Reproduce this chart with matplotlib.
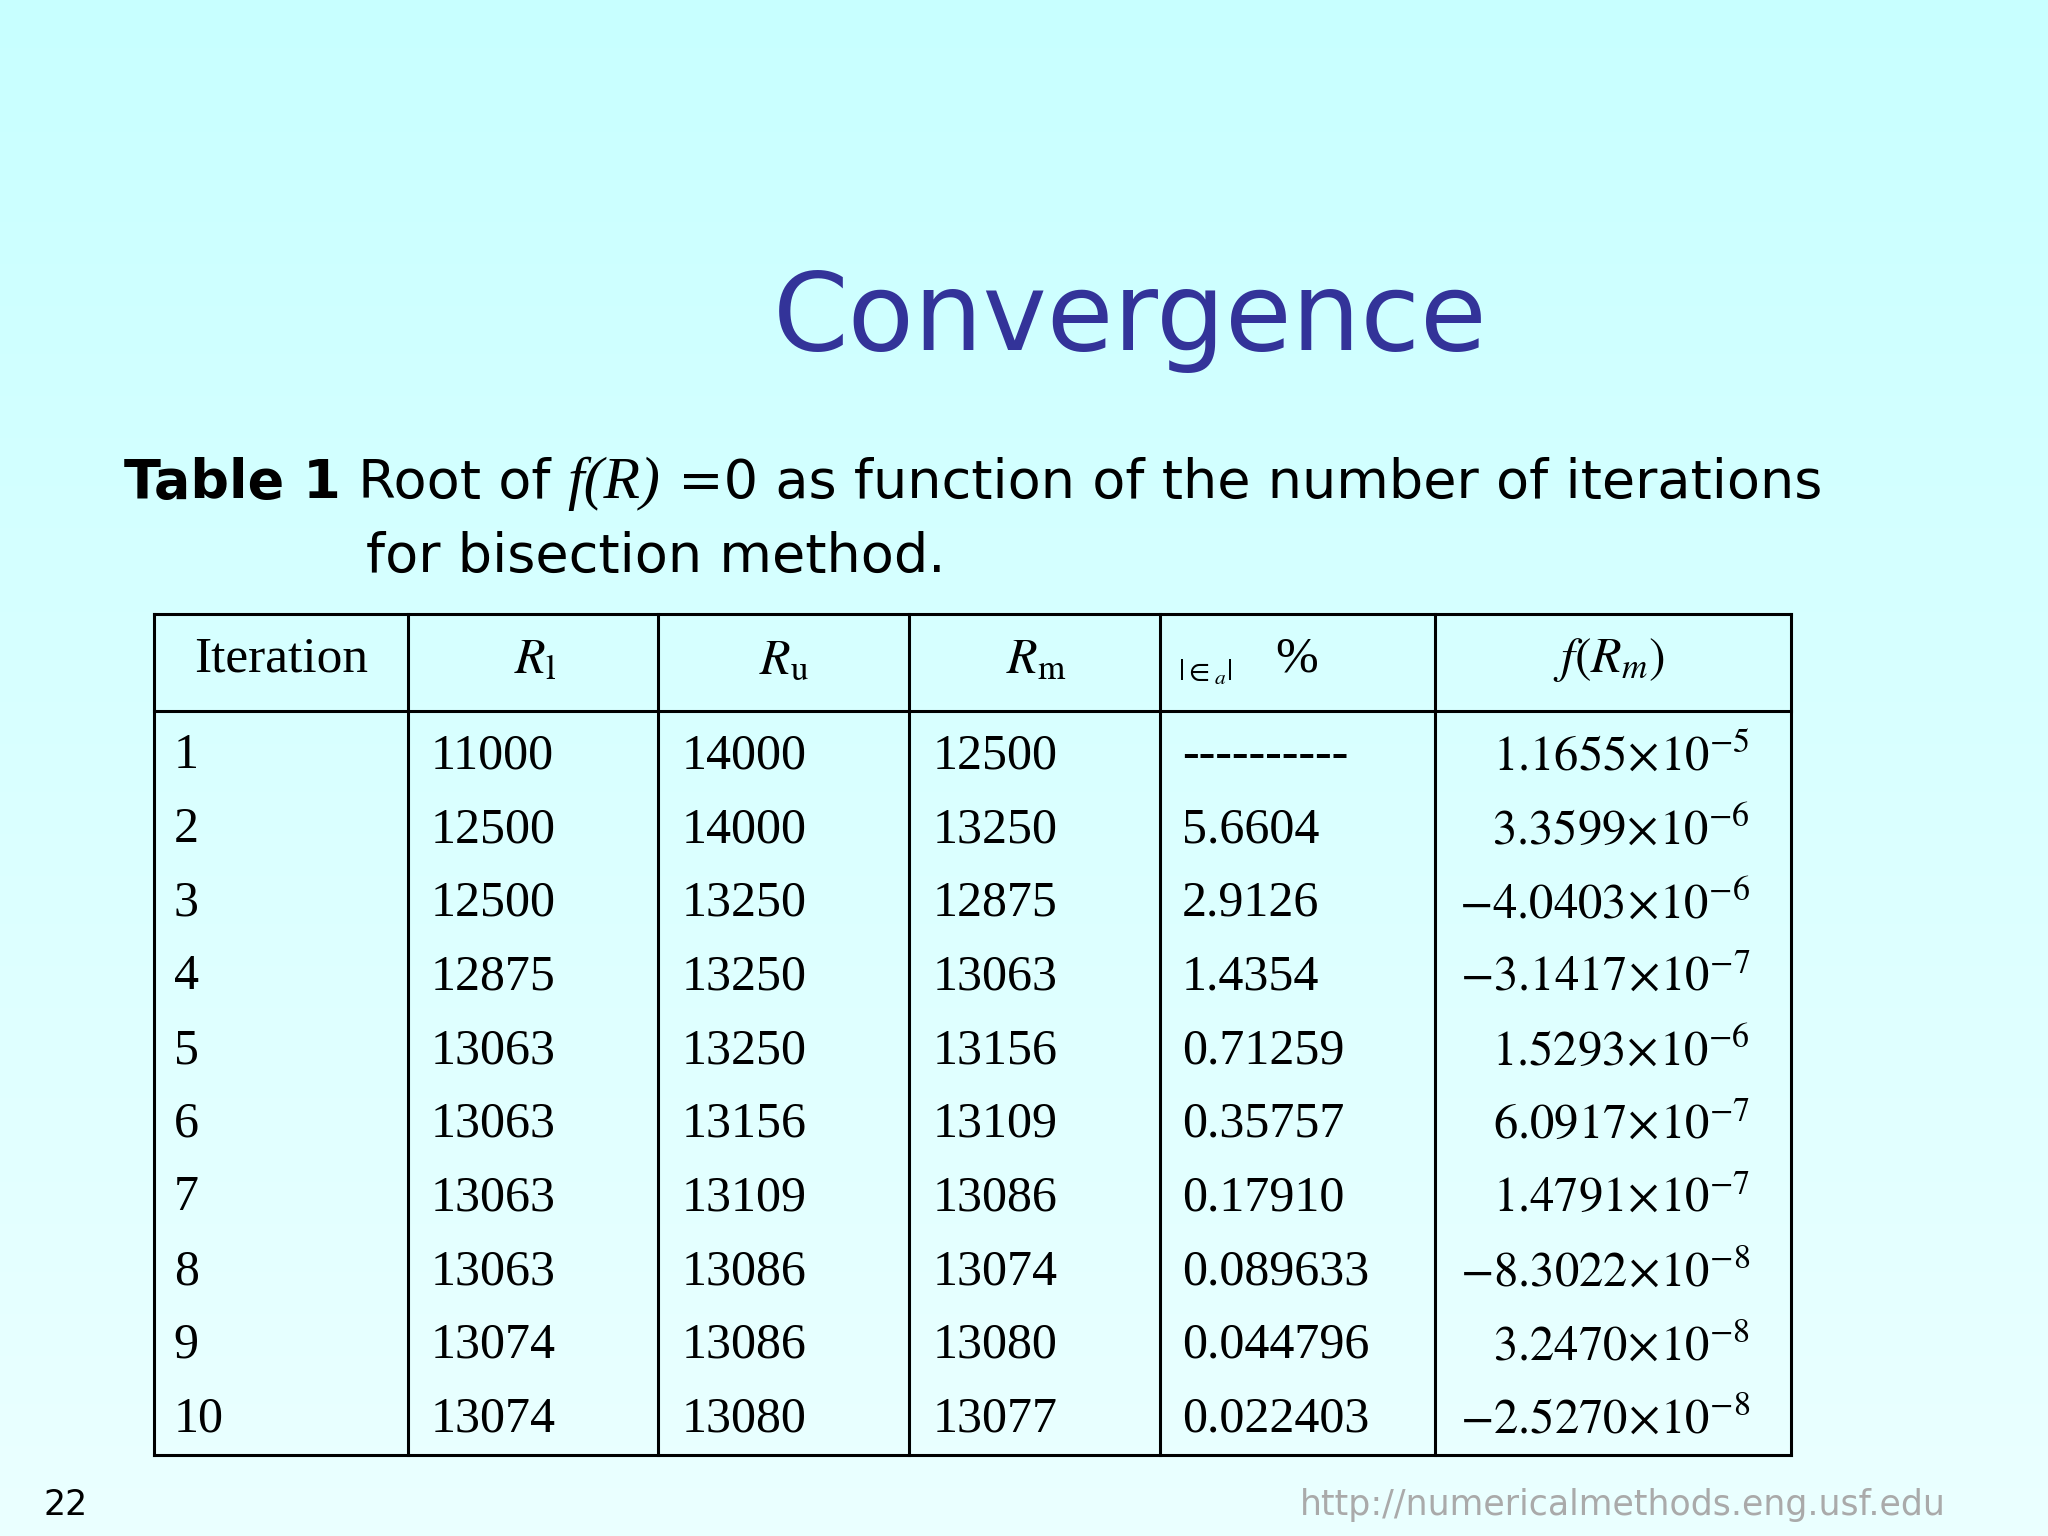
import numpy as np
import matplotlib
matplotlib.use("Agg")
from matplotlib import pyplot as plt

iterations = [1, 2, 3, 4, 5, 6, 7, 8, 9, 10]
r_lower = [11000, 12500, 12500, 12875, 13063, 13063, 13063, 13063, 13074, 13074]
r_upper = [14000, 14000, 13250, 13250, 13250, 13156, 13109, 13086, 13086, 13080]
r_mid = [12500, 13250, 12875, 13063, 13156, 13109, 13086, 13074, 13080, 13077]
rel_err = ["----------", "5.6604", "2.9126", "1.4354", "0.71259", "0.35757",
           "0.17910", "0.089633", "0.044796", "0.022403"]
f_mant = ["1.1655", "3.3599", "\u22124.0403", "\u22123.1417", "1.5293", "6.0917",
          "1.4791", "\u22128.3022", "3.2470", "\u22122.5270"]
f_exp = [-5, -6, -6, -7, -6, -7, -7, -8, -8, -8]

plt.rcParams['mathtext.fontset'] = 'stix'
W, H = 1568, 1176
fig = plt.figure(figsize=(20.48, 15.36), dpi=100)
ax = fig.add_axes([0, 0, 1, 1])
ax.set_xlim(0, W)
ax.set_ylim(H, 0)
ax.axis('off')

# background gradient
top = np.array([200, 255, 255]) / 255
bot = np.array([235, 255, 255]) / 255
t = np.linspace(0, 1, 256)[:, None, None]
grad = np.repeat(top * (1 - t) + bot * t, 2, axis=1)
ax.imshow(grad, extent=[0, W, H, 0], aspect='auto', zorder=0)

ax.text(865, 245, "Convergence", fontsize=78, color='#333399',
        family='DejaVu Sans', ha='center', va='center')

# caption, pieces laid out one after another
fig.canvas.draw()
rend = fig.canvas.get_renderer()
inv = ax.transData.inverted()


def put(x, y, s, **kw):
    txt = ax.text(x, y, s, va='baseline', ha='left', **kw)
    bb = txt.get_window_extent(rend)
    return inv.transform((bb.x1, bb.y0))[0]


cap = dict(fontsize=39, color='black')
x = put(95, 381, "Table 1", family='DejaVu Sans', weight='bold', **cap)
x = put(x, 381, " Root of ", family='DejaVu Sans', **cap)
x = put(x, 381, "f(R)", family='Liberation Serif', style='italic', fontsize=43)
put(x, 381, " =0 as function of the number of iterations", family='DejaVu Sans', **cap)
put(280, 438, "for bisection method.", family='DejaVu Sans', **cap)

# table grid
xs = [118, 312, 504, 696, 888, 1099, 1371]
y0, y1, y2 = 470, 544, 1114
for xv in xs:
    ax.plot([xv, xv], [y0, y2], color='black', lw=2.2)
for yv in (y0, y1, y2):
    ax.plot([xs[0], xs[-1]], [yv, yv], color='black', lw=2.2)

serif = dict(family='Liberation Serif', fontsize=37, color='black', va='center')
ax.text(215, 505, "Iteration", ha='center', **serif)
ax.text(410, 505, r"$R_{\mathrm{l}}$", ha='center', fontsize=36, va='center')
ax.text(600, 505, r"$R_{\mathrm{u}}$", ha='center', fontsize=36, va='center')
ax.text(793, 505, r"$R_{\mathrm{m}}$", ha='center', fontsize=36, va='center')
ax.text(902, 515, r"$|\in_a|$", ha='left', fontsize=22, va='center')
ax.text(993, 505, "%", ha='center', **serif)
ax.text(1232, 505, r"$f(R_m)$", ha='center', fontsize=36, va='center')

serif['fontsize'] = 36
for i in range(len(iterations)):
    yv = 579 + i * 56.4
    ax.text(133, yv, str(iterations[i]), ha='left', **serif)
    ax.text(330, yv, str(r_lower[i]), ha='left', **serif)
    ax.text(522, yv, str(r_upper[i]), ha='left', **serif)
    ax.text(714, yv, str(r_mid[i]), ha='left', **serif)
    ax.text(905, yv, rel_err[i], ha='left', **serif)
    ax.text(1340, yv, r"$\mathrm{%s}\!\times\!10^{%d}$" % (f_mant[i], f_exp[i]),
            ha='right', va='center', fontsize=35)

ax.text(33, 1152, "22", family='DejaVu Sans', fontsize=25, va='center', color='black')
ax.text(1490, 1152, "http://numericalmethods.eng.usf.edu", family='DejaVu Sans',
        fontsize=25, va='center', ha='right', color='#aaaaaa')

fig.savefig("out.png", dpi=100)
